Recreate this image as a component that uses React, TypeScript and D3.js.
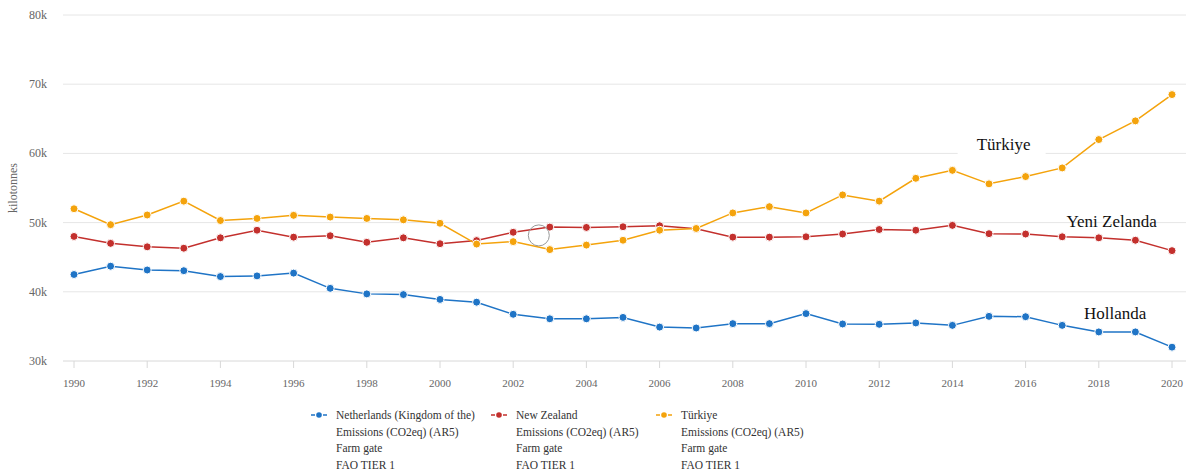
import React from "react";
import * as d3 from "d3";

const years: number[] = d3.range(1990, 2021);

const netherlands: number[] = [
  42.5, 43.7, 43.15, 43.05, 42.2, 42.3, 42.7, 40.5, 39.7, 39.6, 38.9, 38.5,
  36.75, 36.1, 36.1, 36.3, 34.9, 34.77, 35.4, 35.4, 36.85, 35.35, 35.3, 35.5,
  35.15, 36.45, 36.4, 35.15, 34.2, 34.2, 32.0,
];
const newZealand: number[] = [
  48.0, 47.0, 46.5, 46.3, 47.8, 48.9, 47.9, 48.1, 47.15, 47.8, 46.95, 47.4,
  48.6, 49.35, 49.3, 49.4, 49.55, 49.1, 47.9, 47.9, 47.95, 48.35, 49.0, 48.9,
  49.6, 48.4, 48.35, 47.95, 47.8, 47.45, 45.95,
];
const turkiye: number[] = [
  52.0, 49.7, 51.1, 53.1, 50.3, 50.6, 51.05, 50.8, 50.6, 50.4, 49.9, 46.9,
  47.25, 46.1, 46.75, 47.45, 48.9, 49.15, 51.4, 52.3, 51.4, 54.0, 53.1, 56.4,
  57.55, 55.6, 56.65, 57.9, 62.0, 64.7, 68.5,
];

const yTicks: number[] = [30, 40, 50, 60, 70, 80];
const xTicks: number[] = d3.range(1990, 2021, 2);

const seriesNames: string[] = [
  "Netherlands (Kingdom of the)",
  "New Zealand",
  "Türkiye",
];
const legendSubLines: string[] = ["Emissions (CO2eq) (AR5)", "Farm gate", "FAO TIER 1"];
const annotations: { text: string; year: number; value: number }[] = [
  { text: "Türkiye", year: 2015.4, value: 60.49 },
  { text: "Yeni Zelanda", year: 2018.35, value: 49.36 },
  { text: "Hollanda", year: 2018.45, value: 36.07 },
];
const colors: string[] = ["#1f74c6", "#c3302d", "#f4a30c"];

export default function App() {
  const W = 1199;
  const H = 473;
  const x = d3.scaleLinear().domain([1990, 2020]).range([74, 1172]);
  const y = d3.scaleLinear().domain([30, 80]).range([361, 15]);
  const data = [netherlands, newZealand, turkiye];
  const line = d3
    .line<number>()
    .x((_, i) => x(years[i]))
    .y((d) => y(d));
  const serif = "Liberation Serif, Times New Roman, serif";
  const legendX = [311, 491, 656];

  return (
    <svg
      width={W}
      height={H}
      style={{ position: "absolute", left: 0, top: 0, background: "#fff", fontFamily: serif }}
    >
      {yTicks.map((t) => (
        <g key={t}>
          <line
            x1={63}
            x2={1186}
            y1={y(t)}
            y2={y(t)}
            stroke={t === 30 ? "#d8d8d8" : "#e6e6e6"}
            strokeWidth={1}
          />
          <text x={47} y={y(t) + 4} textAnchor="end" fontSize={12} fill="#666">
            {t}k
          </text>
        </g>
      ))}
      <text
        transform={`translate(17,${188}) rotate(-90)`}
        textAnchor="middle"
        fontSize={12}
        fill="#666"
      >
        kilotonnes
      </text>
      {xTicks.map((t) => (
        <g key={t}>
          <line x1={x(t)} x2={x(t)} y1={361} y2={368} stroke="#d8d8d8" />
          <text x={x(t)} y={387} textAnchor="middle" fontSize={11} fill="#666">
            {t}
          </text>
        </g>
      ))}
      {data.map((s, k) => (
        <g key={k}>
          <path d={line(s) || ""} fill="none" stroke={colors[k]} strokeWidth={1.5} />
          {s.map((v, i) => (
            <circle
              key={i}
              cx={x(years[i])}
              cy={y(v)}
              r={4}
              fill={colors[k]}
              stroke="#fff"
              strokeWidth={1}
            />
          ))}
        </g>
      ))}
      <circle
        cx={x(2002.7)}
        cy={y(48.15)}
        r={10.5}
        fill="none"
        stroke="#999"
        strokeWidth={1}
      />
      {annotations.map((a, i) => {
        const ax = x(a.year);
        const ay = y(a.value);
        return (
          <g key={i}>
            {i === 0 && (
              <rect x={ax - 46} y={ay - 18} width={88} height={26} fill="#fff" />
            )}
            <text x={ax} y={ay} textAnchor="middle" fontSize={17} fill="#111">
              {a.text}
            </text>
          </g>
        );
      })}
      {seriesNames.map((n, k) => (
        <g key={n}>
          <line
            x1={legendX[k]}
            x2={legendX[k] + 16}
            y1={415}
            y2={415}
            stroke={colors[k]}
            strokeWidth={1.5}
            strokeDasharray="4 2.5 3 2.5 4"
          />
          <circle cx={legendX[k] + 8} cy={415} r={2.8} fill={colors[k]} />
          {[n, ...legendSubLines].map((ln, j) => (
            <text
              key={j}
              x={legendX[k] + 25}
              y={419 + j * 16.7}
              fontSize={11.5}
              fill="#333"
            >
              {ln}
            </text>
          ))}
        </g>
      ))}
    </svg>
  );
}
